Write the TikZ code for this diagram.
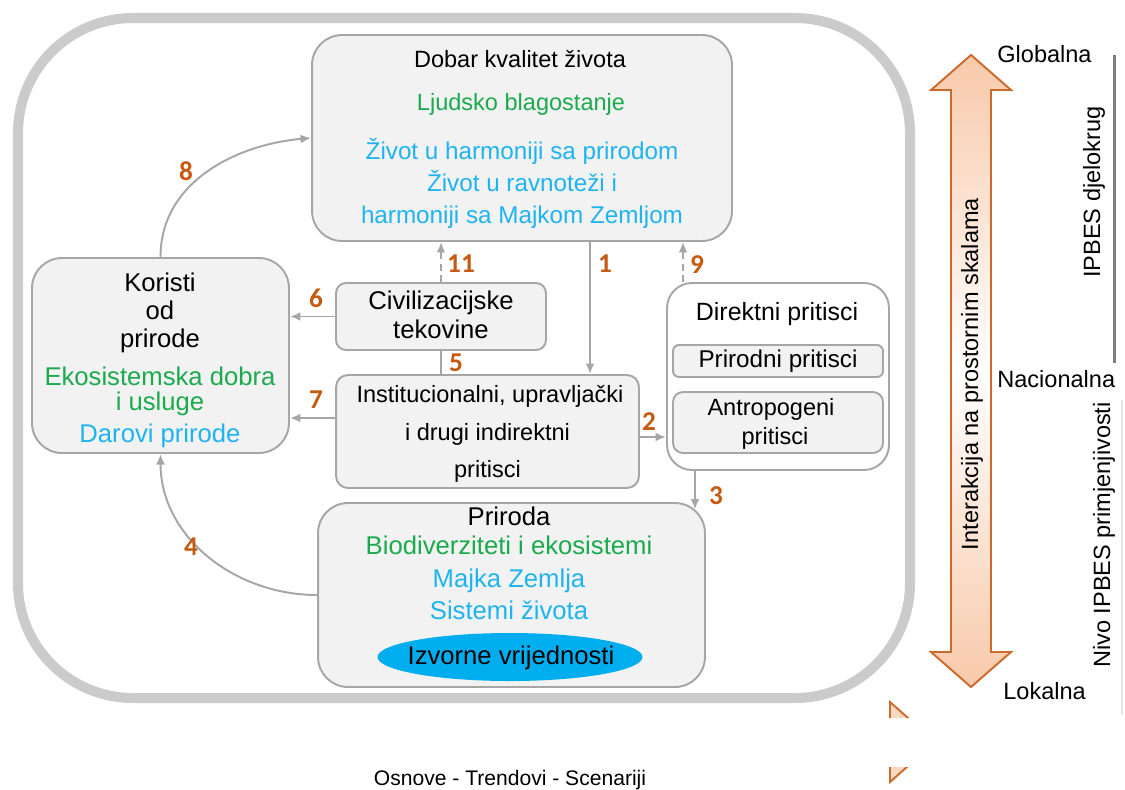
\documentclass[tikz,border=0pt]{standalone}
\usepackage{fontspec}
\setmainfont{Liberation Sans}
\newfontfamily\numfont{Carlito}
\usetikzlibrary{arrows.meta,shapes.geometric}
\definecolor{boxfill}{HTML}{F2F2F2}
\definecolor{boxgray}{HTML}{A6A6A6}
\definecolor{framegray}{HTML}{CBCBCB}
\definecolor{tgreen}{HTML}{1BAA4D}
\definecolor{tblue}{HTML}{1FB4F0}
\definecolor{ellblue}{HTML}{00AEEF}
\definecolor{numorange}{HTML}{C55A11}
\definecolor{arrorange}{HTML}{CC6A2C}
\definecolor{arrfill}{HTML}{F8C9AA}
\definecolor{scalegray}{HTML}{7F7F7F}

\begin{document}
\begin{tikzpicture}[
  >={Latex[length=6pt,width=5pt]},
  box/.style={draw=boxgray, fill=boxfill, line width=1.1pt, inner sep=0pt},
  conn/.style={draw=boxgray, line width=1.1pt},
  lbl/.style={inner sep=0pt, font=\fontsize{13.4}{16}\selectfont, text height=8pt, text depth=0pt},
  biglbl/.style={lbl, font=\fontsize{14.6}{17}\selectfont},
  num/.style={inner sep=0pt, text=numorange, font=\numfont\bfseries\fontsize{15.5}{17}\selectfont}
]
\begin{scope}[x=0.02cm, y=-0.02cm]
\useasboundingbox (0,0) rectangle (1125,789);

% outer frame
\draw[line width=5.7pt, framegray, rounded corners=2.3cm] (18,18) rectangle (910,698);

% boxes
\node[box, rounded corners=0.6cm, minimum width=8.4cm, minimum height=4.12cm] (good) at (522,138) {};
\node[box, rounded corners=0.6cm, minimum width=5.14cm, minimum height=3.9cm] (benef) at (160.5,355.5) {};
\node[box, rounded corners=0.2cm, minimum width=4.2cm, minimum height=1.34cm] (civ) at (441,316.5) {};
\node[box, rounded corners=0.24cm, minimum width=6.06cm, minimum height=2.26cm] (inst) at (487.5,431.5) {};
\node[box, fill=white, rounded corners=0.5cm, minimum width=4.44cm, minimum height=3.74cm] (direct) at (778,376.5) {};
\node[box, rounded corners=0.12cm, minimum width=4.2cm, minimum height=0.64cm] (natpr) at (778,361) {};
\node[box, rounded corners=0.2cm, minimum width=4.2cm, minimum height=1.22cm] (antro) at (778,422.5) {};
\node[box, rounded corners=0.6cm, minimum width=7.74cm, minimum height=3.68cm] (nature) at (511.5,595) {};
\node[ellipse, fill=ellblue, inner sep=0pt, minimum width=5.3cm, minimum height=0.96cm] (values) at (510,657) {};
\node[biglbl] (values-1) at (511,657) {Izvorne vrijednosti};

% texts in the boxes
\node[lbl] (good-60) at (520,60) {Dobar kvalitet života};
\node[lbl, text=tgreen] (good-103) at (521,103) {Ljudsko blagostanje};
\foreach \t/\y in {Život u harmoniji sa prirodom/152, Život u ravnoteži i/184,
    harmoniji sa Majkom Zemljom/216}
  \node[lbl, text=tblue, font=\fontsize{13.8}{16}\selectfont] (good-\y) at (522,\y) {\t};
\foreach \t/\y/\c in {Koristi/284/black, od/312/black, prirode/340/black,
    Ekosistemska dobra/378/tgreen, i usluge/403/tgreen, Darovi prirode/435/tblue}
  \node[biglbl, text=\c] (benef-\y) at (160,\y) {\t};
\node[biglbl] (civ-1) at (441,302) {Civilizacijske};
\node[biglbl] (civ-2) at (441,331) {tekovine};
\node[lbl] (inst-1) at (490,395) {Institucionalni, upravljački};
\node[lbl] (inst-2) at (487.5,433) {i drugi indirektni};
\node[lbl] (inst-3) at (487.5,470) {pritisci};
\node[lbl, font=\fontsize{14.2}{16}\selectfont] (direct-1) at (777,313) {Direktni pritisci};
\node[lbl, font=\fontsize{13.8}{16}\selectfont] (natpr-1) at (778,360) {Prirodni pritisci};
\node[lbl] (antro-1) at (771,408) {Antropogeni};
\node[lbl] (antro-2) at (775,437) {pritisci};
\foreach \t/\y/\c in {Priroda/518/black, Biodiverziteti i ekosistemi/547/tgreen,
    Majka Zemlja/580/tblue, Sistemi života/612/tblue}
  \node[biglbl, text=\c] (nature-\y) at (509,\y) {\t};

% connectors
\draw[conn,->] (benef.north) to[out=90,in=185] (good.west);
\draw[conn,->] (nature.west) to[out=180,in=-90] (benef.south);
\draw[conn,dashed,dash pattern=on 4pt off 2.5pt,->] (civ.north) -- (civ.north |- good.south);
\draw[conn,->] (civ.west) -- (civ.west -| benef.east);
\draw[conn] (civ.south) -- (civ.south |- inst.north);
\coordinate (c7) at ([yshift=0.27cm]inst.west);
\draw[conn,->] (c7) -- (c7 -| benef.east);
\coordinate (c1) at ([xshift=1.36cm]good.south);
\draw[conn,->] (c1) -- (c1 |- inst.north);
\coordinate (c9) at ([xshift=-1.9cm]direct.north);
\draw[conn,dashed,dash pattern=on 4pt off 2.5pt,->] (c9) -- (c9 |- good.south);
\coordinate (c2) at ([yshift=-0.11cm]inst.east);
\draw[conn,->] (c2) -- (c2 -| direct.west);
\coordinate (c3) at ([xshift=-1.66cm]direct.south);
\coordinate (n3) at (c3 |- nature.north);
\draw[conn,->] (c3) -- ([yshift=-0.15cm]n3);

% numbers
\foreach \n/\x/\y in {8/186/171, 11/461/264, 6/316/298, 5/456/363, 7/316/400,
    1/605/264, 9/697/265, 2/649/422, 3/716/496, 4/191/547}
  \node[num] (num-\n) at (\x,\y) {\n};

% scale arrow
\shadedraw[draw=arrorange, line width=1.1pt, top color=arrfill, bottom color=arrfill, middle color=white]
  (971,55) -- (1011,90) -- (991,90) -- (991,652) -- (1011,652) -- (971,687)
  -- (931,652) -- (951,652) -- (951,90) -- (931,90) -- cycle;
\node[lbl, rotate=90] (inter) at (971,374) {Interakcija na prostornim skalama};

\node[lbl, anchor=west] (glob) at (997,55) {Globalna};
\node[lbl, anchor=west] (nac) at (997,380) {Nacionalna};
\node[lbl, anchor=west] (lok) at (1003,692) {Lokalna};
\draw[line width=1.7pt, scalegray] (1114,55) -- (1114,363);
\node[lbl, rotate=90] (scope) at (1093,192) {IPBES djelokrug};
\draw[line width=1.5pt, gray!20] (1122,400) -- (1122,715);
\node[lbl, rotate=90] (level) at (1103,535) {Nivo IPBES primjenjivosti};

% cut arrow at the bottom
\begin{scope}
\clip (880,700) rectangle (950,718) (880,767) rectangle (950,790);
\filldraw[draw=arrorange, line width=1.1pt, fill=arrfill!70] (890,702) -- (935,742) -- (890,782) -- cycle;
\end{scope}
\node[lbl, font=\fontsize{12}{14}\selectfont] (base) at (510,778) {Osnove - Trendovi - Scenariji};
\end{scope}
\end{tikzpicture}
\end{document}
